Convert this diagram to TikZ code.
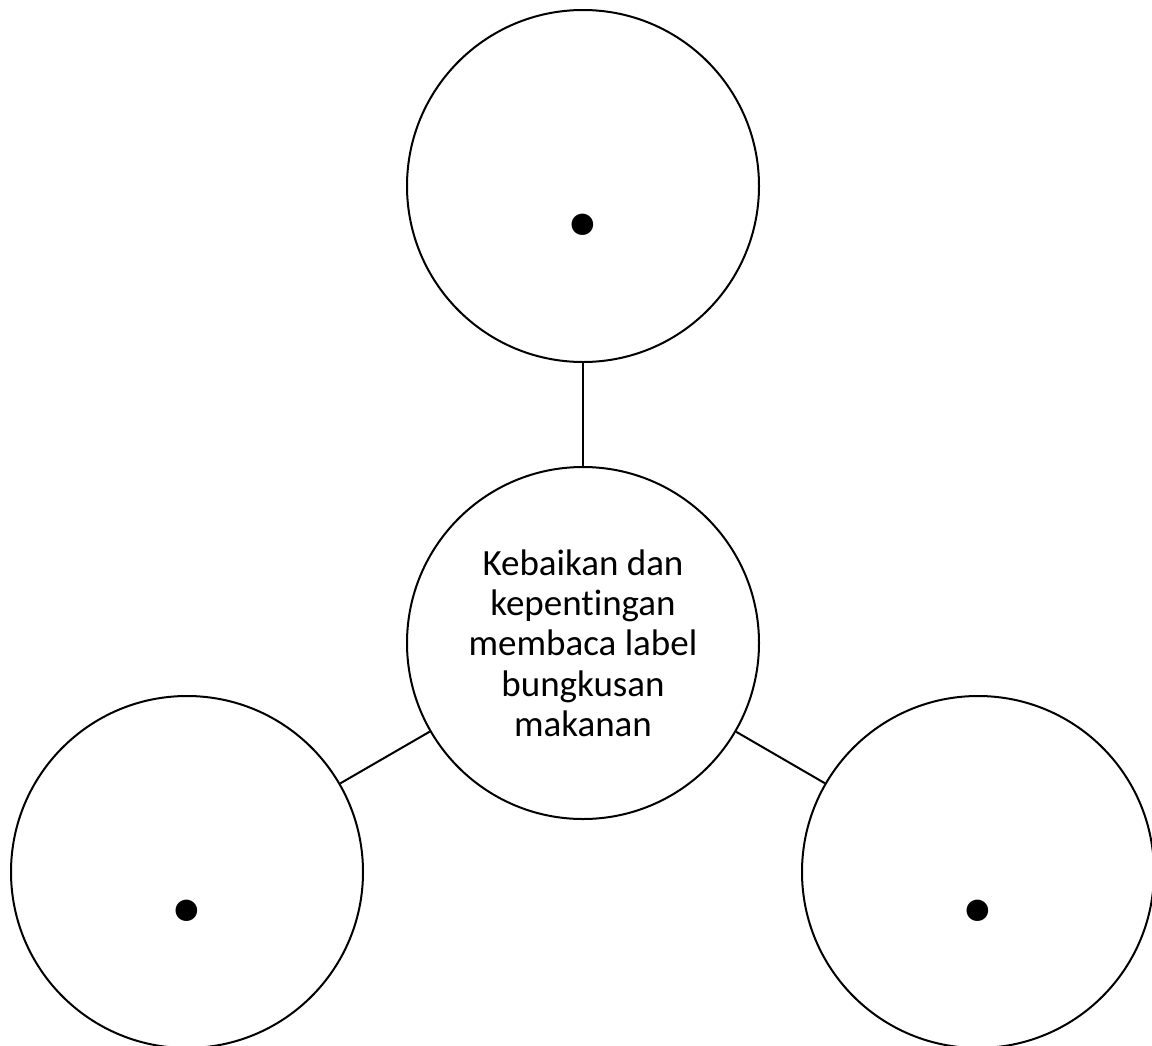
\documentclass[tikz,border=0pt]{standalone}
\usepackage{fontspec}
\setmainfont{Carlito}[Ligatures=NoCommon]
\begin{document}
\begin{tikzpicture}[x=1pt,y=-1pt,
  bubble/.style={circle,draw=black,line width=2pt,minimum size=352pt,inner sep=0pt,fill=white},
  dotmark/.style={inner sep=0pt,font=\fontsize{145}{145}\selectfont\bfseries},
  link/.style={draw=black,line width=2pt}]
\useasboundingbox (0,0) rectangle (1152,1045);
\clip (0,0) rectangle (1152,1045);
\fill[white] (0,0) rectangle (1152,1045);
\node[bubble] (top) at (583,186) {};
\node[bubble] (mid) at (583,643) {};
\node[bubble] (left) at (187,872) {};
\node[bubble] (right) at (978,872) {};
\draw[link] (top) -- (mid);
\draw[link] (mid) -- (left);
\draw[link] (mid) -- (right);
\node[align=center,font=\fontsize{37}{40.3}\selectfont] (label) at (583,643) {Kebaikan dan\\kepentingan\\membaca label\\bungkusan\\makanan};
\node[dotmark] (d1) at (583,225) {.};
\node[dotmark] (d2) at (187,911) {.};
\node[dotmark] (d3) at (978,911) {.};
\end{tikzpicture}
\end{document}
